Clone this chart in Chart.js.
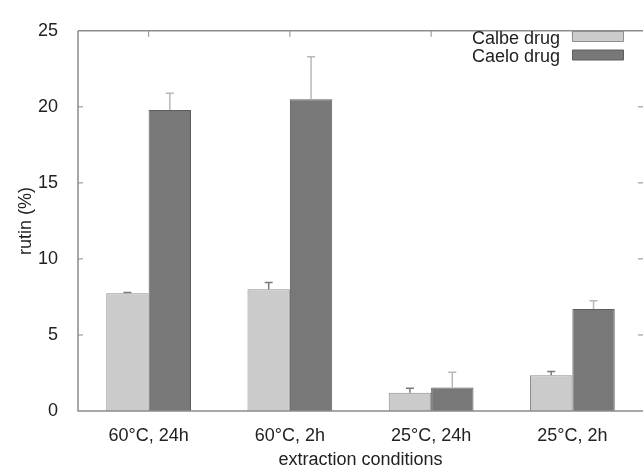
<!DOCTYPE html>
<html>
<head>
<meta charset="utf-8">
<script src="https://cdn.jsdelivr.net/npm/chart.js@4"></script>
<style>
html,body{margin:0;padding:0;background:#fff}
#wrap{width:643px;height:468px}
</style>
</head>
<body>
<div id="wrap"><canvas id="c"></canvas></div>
<script>
const categories = ["60°C, 24h","60°C, 2h","25°C, 24h","25°C, 2h"]
const calbe = [7.75,8.0,1.2,2.35]
const calbeErr = [0.05,0.45,0.3,0.25]
const caelo = [19.8,20.5,1.55,6.7]
const caeloErr = [1.1,2.8,1.0,0.55]
const yTicks = [0,5,10,15,20,25]

const FONT = "'Liberation Sans', Arial, sans-serif"
const AXIS = "#8c8c8c"

// upward error bars with caps
const errPlugin = {
id:"err",
afterDatasetsDraw(chart){
const ctx = chart.ctx
const y = chart.scales.y
chart.data.datasets.forEach((ds,di)=>{
const meta = chart.getDatasetMeta(di)
meta.data.forEach((bar,i)=>{
const top = y.getPixelForValue(ds.data[i]+ds.err[i])
ctx.save()
ctx.strokeStyle = ds.errColor
ctx.lineWidth = 1.5
ctx.beginPath()
ctx.moveTo(bar.x,bar.y)
ctx.lineTo(bar.x,top)
ctx.moveTo(bar.x-4,top)
ctx.lineTo(bar.x+4,top)
ctx.stroke()
ctx.restore()
})
})
}
}

// frame, inward ticks, legend (text left of box)
const framePlugin = {
id:"frame",
afterDraw(chart){
const ctx = chart.ctx
const a = chart.chartArea
const y = chart.scales.y
const x = chart.scales.x
ctx.save()
ctx.strokeStyle = AXIS
ctx.lineWidth = 1.5
ctx.beginPath()
ctx.moveTo(a.left,a.top)
ctx.lineTo(a.right,a.top)
ctx.moveTo(a.left,a.top)
ctx.lineTo(a.left,a.bottom)
ctx.lineTo(a.right,a.bottom)
ctx.stroke()
ctx.lineWidth = 1
ctx.beginPath()
yTicks.slice(1,-1).forEach(v=>{
const py = y.getPixelForValue(v)
ctx.moveTo(a.left,py);ctx.lineTo(a.left+5,py)
ctx.moveTo(a.right,py);ctx.lineTo(a.right-5,py)
})
categories.forEach((c,i)=>{
const px = x.getPixelForValue(i)
ctx.moveTo(px,a.top);ctx.lineTo(px,a.top+6)
})
ctx.stroke()

ctx.font = "18px "+FONT
ctx.fillStyle = "#222"
ctx.textAlign = "right"
ctx.textBaseline = "alphabetic"
chart.data.datasets.forEach((ds,i)=>{
const ty = 44+i*18
ctx.fillText(ds.label,560,ty)
ctx.fillStyle = ds.backgroundColor
ctx.strokeStyle = ds.borderColor
ctx.lineWidth = 1
ctx.beginPath()
ctx.rect(572.5,31.5+i*18.5,51,10)
ctx.fill()
ctx.stroke()
ctx.fillStyle = "#222"
})
ctx.restore()
}
}

new Chart(document.getElementById("c"),{
type:"bar",
data:{
labels:categories,
datasets:[
{label:"Calbe drug",data:calbe,err:calbeErr,backgroundColor:"#cbcbcb",borderColor:"#8e8e8e",borderWidth:1,errColor:"#7a7a7a"},
{label:"Caelo drug",data:caelo,err:caeloErr,backgroundColor:"#787878",borderColor:"#5e5e5e",borderWidth:1,errColor:"#b8b8b8"}
]
},
options:{
responsive:true,
maintainAspectRatio:false,
animation:false,
layout:{padding:{top:21,right:0,left:0,bottom:0}},
datasets:{bar:{categoryPercentage:0.6,barPercentage:1.0}},
plugins:{legend:{display:false},tooltip:{enabled:false}},
scales:{
x:{
grid:{display:false,drawTicks:false},
border:{display:false},
ticks:{color:"#222",font:{family:FONT,size:18},padding:14,maxRotation:0},
title:{display:true,text:"extraction conditions",color:"#222",font:{family:FONT,size:18},padding:{top:6,bottom:-3}},
afterFit(s){s.height=57}
},
y:{
min:0,max:25,
grid:{display:false,drawTicks:false},
border:{display:false},
ticks:{stepSize:5,color:"#222",font:{family:FONT,size:18},padding:20},
title:{display:true,text:"rutin (%)",color:"#222",font:{family:FONT,size:18},padding:{top:15,bottom:0}},
afterFit(s){s.width=78}
}
}
},
plugins:[errPlugin,framePlugin]
})
</script>
</body>
</html>
